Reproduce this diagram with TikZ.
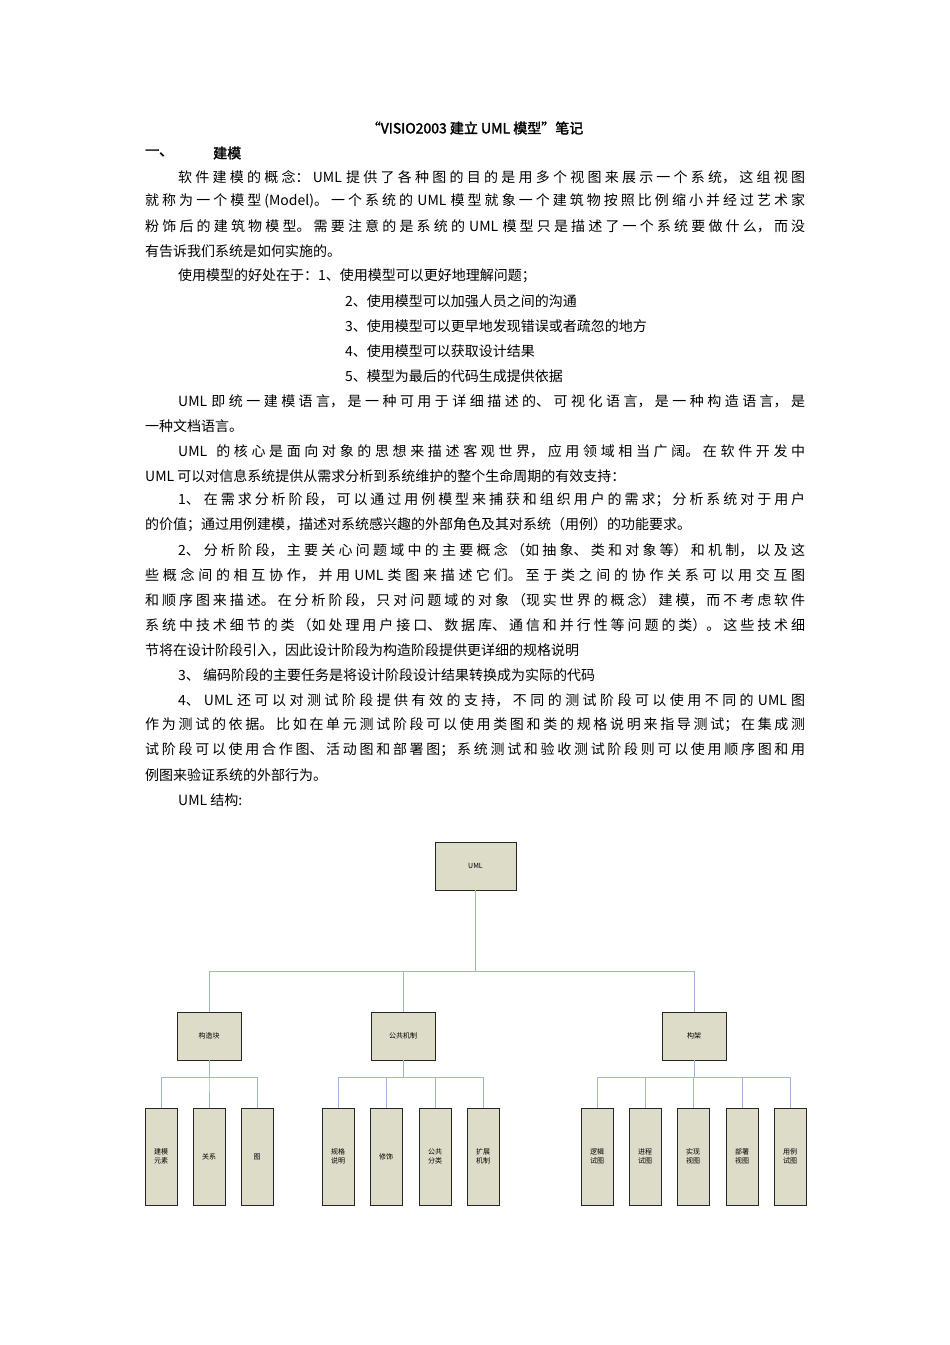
\documentclass[tikz,border=0pt]{standalone}
\usepackage{fontspec}
\setmainfont{Noto Sans CJK SC}[AutoFakeBold=2]
\XeTeXlinebreaklocale "zh"
\XeTeXlinebreakskip=0pt plus 1pt
\newcommand{\fl}[2][660pt]{\parbox[c]{#1}{\parindent=0pt\parfillskip=0pt\spaceskip=0.3em plus 0.05em\XeTeXlinebreakskip=0pt plus 1fil minus 0.5pt\relax #2}}
\tikzset{
 tx/.style={anchor=west,inner sep=0pt,font=\fontsize{14}{16}\selectfont},
 bx/.style={draw=black!85,fill=boxc,line width=0.8pt,inner sep=0pt,font=\fontsize{7}{9}\selectfont,align=center,
   drop shadow={shadow xshift=1pt,shadow yshift=-1pt,opacity=0.3}},
 ln/.style={draw=linec,line width=1pt}
}
\usetikzlibrary{shadows}
\definecolor{boxc}{HTML}{DCDCC8}
\definecolor{linec}{HTML}{9DB5DC}
\begin{document}
\begin{tikzpicture}[x=1pt,y=-1pt]
\useasboundingbox (0,0) rectangle (950,1345);
\node[tx,font=\fontsize{14}{16}\selectfont\bfseries,anchor=center] (title) at (475,128) {“VISIO2003 建立 UML 模型”笔记};
\node[tx,font=\fontsize{14}{16}\selectfont\bfseries] (h1) at (145,153) {一、};
\node[tx,font=\fontsize{14}{16}\selectfont\bfseries] (h2) at (213,153) {建模};
\node[tx] (l1) at (178,177) {\fl[627pt]{软件建模的概念：UML 提供了各种图的目的是用多个视图来展示一个系统，这组视图}};
\node[tx] (l2) at (145,201) {\fl{就称为一个模型(Model)。一个系统的 UML 模型就象一个建筑物按照比例缩小并经过艺术家}};
\node[tx] (l3) at (145,226) {\fl{粉饰后的建筑物模型。需要注意的是系统的 UML 模型只是描述了一个系统要做什么，而没}};
\node[tx] (l4) at (145,251) {有告诉我们系统是如何实施的。};
\node[tx] (l5) at (178,276) {使用模型的好处在于：1、使用模型可以更好地理解问题；};
\node[tx] (l6) at (345,301) {2、使用模型可以加强人员之间的沟通};
\node[tx] (l7) at (345,326) {3、使用模型可以更早地发现错误或者疏忽的地方};
\node[tx] (l8) at (345,351) {4、使用模型可以获取设计结果};
\node[tx] (l9) at (345,376) {5、模型为最后的代码生成提供依据};
\node[tx] (l10) at (178,401) {\fl[627pt]{UML 即统一建模语言，是一种可用于详细描述的、可视化语言，是一种构造语言，是}};
\node[tx] (l11) at (145,426) {一种文档语言。};
\node[tx] (l12) at (178,451) {\fl[627pt]{UML\hspace{9pt}的核心是面向对象的思想来描述客观世界，应用领域相当广阔。在软件开发中}};
\node[tx] (l13) at (145,476) {UML 可以对信息系统提供从需求分析到系统维护的整个生命周期的有效支持：};
\node[tx] (l14) at (178,500) {\fl[627pt]{1、\hspace{4pt}在需求分析阶段，可以通过用例模型来捕获和组织用户的需求；分析系统对于用户}};
\node[tx] (l15) at (145,525) {的价值；通过用例建模，描述对系统感兴趣的外部角色及其对系统（用例）的功能要求。};
\node[tx] (l16) at (178,550) {\fl[627pt]{2、\hspace{4pt}分析阶段，主要关心问题域中的主要概念（如抽象、类和对象等）和机制，以及这}};
\node[tx] (l17) at (145,575) {\fl{些概念间的相互协作，并用 UML 类图来描述它们。至于类之间的协作关系可以用交互图}};
\node[tx] (l18) at (145,600) {\fl{和顺序图来描述。在分析阶段，只对问题域的对象（现实世界的概念）建模，而不考虑软件}};
\node[tx] (l19) at (145,625) {\fl{系统中技术细节的类（如处理用户接口、数据库、通信和并行性等问题的类）。这些技术细}};
\node[tx] (l20) at (145,650) {节将在设计阶段引入，因此设计阶段为构造阶段提供更详细的规格说明};
\node[tx] (l21) at (178,675) {3、 编码阶段的主要任务是将设计阶段设计结果转换成为实际的代码};
\node[tx] (l22) at (178,700) {\fl[627pt]{4、\hspace{4pt}UML 还可以对测试阶段提供有效的支持，不同的测试阶段可以使用不同的 UML 图}};
\node[tx] (l23) at (145,725) {\fl{作为测试的依据。比如在单元测试阶段可以使用类图和类的规格说明来指导测试；在集成测}};
\node[tx] (l24) at (145,750) {\fl{试阶段可以使用合作图、活动图和部署图；系统测试和验收测试阶段则可以使用顺序图和用}};
\node[tx] (l25) at (145,775) {例图来验证系统的外部行为。};
\node[tx] (l26) at (178,800) {UML 结构:};
% diagram
\node[bx,minimum width=81,minimum height=48] (uml) at (475.5,866) {UML};
\node[bx,minimum width=64,minimum height=48] (a) at (209,1036) {构造块};
\node[bx,minimum width=64,minimum height=48] (b) at (403,1036) {公共机制};
\node[bx,minimum width=64,minimum height=48] (c) at (694,1036) {构架};
\foreach \n/\x/\t in {a1/161/建模\\元素,a2/209/关系,a3/257/图,
  b1/338/规格\\说明,b2/386/修饰,b3/435/公共\\分类,b4/483/扩展\\机制,
  c1/597/逻辑\\试图,c2/645/进程\\试图,c3/693/实现\\视图,c4/742/部署\\视图,c5/790/用例\\试图}
  \node[bx,minimum width=32,minimum height=97] (\n) at (\x,1156.5) {\t};
\foreach \p in {a,b,c} \draw[ln] (uml.south) -- ++(0,81) -| (\p.north);
\foreach \p/\k in {a/a1,a/a2,a/a3,b/b1,b/b2,b/b3,b/b4,c/c1,c/c2,c/c3,c/c4,c/c5}
  \draw[ln] (\p.south) -- ++(0,17) -| (\k.north);
\end{tikzpicture}
\end{document}
